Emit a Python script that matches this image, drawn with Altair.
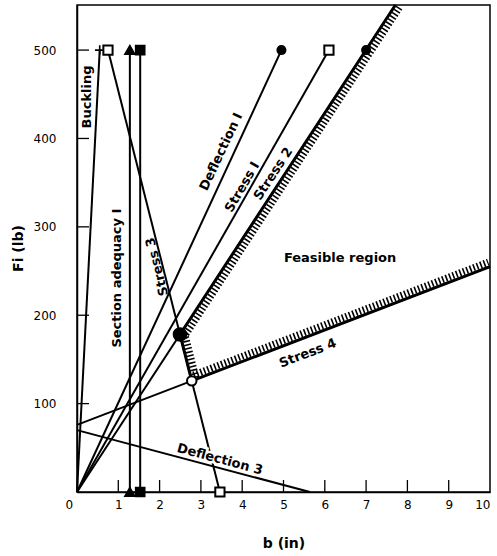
import altair as alt
import pandas as pd

# ---------------- data (b in inches, Fi in lb) ----------------
line_names = ["Buckling", "Section adequacy I", "Section adequacy II", "Deflection I",
              "Stress I", "Stress 2", "Stress 3", "Stress 4", "Deflection 3"]
line_b0 = [0.0, 1.28, 1.53, 0.0, 0.0, 0.0, 0.75, 0.0, 0.0]
line_f0 = [0.0, 0.0, 0.0, 0.0, 0.0, 0.0, 500.0, 76.0, 70.0]
line_b1 = [0.55, 1.28, 1.53, 4.95, 6.1, 7.71, 3.46, 10.0, 5.64]
line_f1 = [500.0, 500.0, 500.0, 500.0, 500.0, 551.0, 0.0, 255.0, 0.0]

plus_b, plus_f = [0.55], [500.0]
open_sq_b, open_sq_f = [0.75, 3.46, 6.1], [500.0, 0.0, 500.0]
tri_b, tri_f = [1.28, 1.28], [500.0, 0.0]
fill_sq_b, fill_sq_f = [1.53, 1.53], [500.0, 0.0]
dot_b, dot_f = [4.95, 7.0], [500.0, 500.0]

label_text = ["Buckling", "Section adequacy I", "Stress 3", "Deflection I", "Stress I",
              "Stress 2", "Feasible region", "Stress 4"]
label_b = [0.24, 0.97, 1.94, 3.49, 4.0, 4.75, 6.37, 5.59]
label_f = [447.0, 242.0, 255.0, 385.0, 345.0, 360.0, 265.0, 157.0]
defl3_text, defl3_b, defl3_f = ["Deflection 3"], [3.46], [37.0]

x_ticks = [0, 1, 2, 3, 4, 5, 6, 7, 8, 9, 10]
y_ticks = [100, 200, 300, 400, 500]

# ---------------- geometry helpers ----------------
def line_of(name):
    i = line_names.index(name)
    return line_b0[i], line_f0[i], line_b1[i], line_f1[i]

def intersect(n1, n2):
    a0, a1, a2, a3 = line_of(n1)
    b0, b1, b2, b3 = line_of(n2)
    m1 = (a3 - a1) / (a2 - a0)
    m2 = (b3 - b1) / (b2 - b0)
    c1 = a1 - m1 * a0
    c2 = b1 - m2 * b0
    xb = (c2 - c1) / (m1 - m2)
    return xb, m1 * xb + c1

vA = intersect("Stress 2", "Stress 3")
vB = intersect("Stress 3", "Stress 4")

lines_df = pd.DataFrame({
    "name": line_names * 2,
    "order": [0] * len(line_names) + [1] * len(line_names),
    "b": line_b0 + line_b1,
    "Fi": line_f0 + line_f1,
})

s2 = line_of("Stress 2")
s4 = line_of("Stress 4")
hatch2 = pd.DataFrame({"b": [vA[0], s2[2]], "Fi": [vA[1], s2[3]], "o": [0, 1]})
hatch3 = pd.DataFrame({"b": [vA[0], vB[0]], "Fi": [vA[1], vB[1]], "o": [0, 1]})
hatch4 = pd.DataFrame({"b": [vB[0], s4[2]], "Fi": [vB[1], s4[3]], "o": [0, 1]})

# ---------------- styling ----------------
FONT = "DejaVu Sans"
W, H = 413, 487
label_angles = [270, 270, 256, 295, 300, 303, 0, 339]

xscale = alt.Scale(domain=[0, 10], nice=False, zero=False)
yscale = alt.Scale(domain=[0, 551], nice=False, zero=False)

xaxis = alt.Axis(values=x_ticks, ticks=False, grid=False, labelFont=FONT, labelFontSize=12,
                 labelColor="black", labelPadding=7,
                 labelOffset={"condition": {"test": "datum.value === 0", "value": -12}, "value": 0},
                 domainColor="black", domainWidth=1.5, title="b (in)", titleFont=FONT,
                 titleFontSize=14, titleFontWeight="bold", titleColor="black",
                 titleY=51, titleBaseline="middle")
yaxis = alt.Axis(values=y_ticks, ticks=False, grid=False, labelFont=FONT, labelFontSize=12,
                 labelColor="black", labelPadding=21, domainColor="black", domainWidth=1.5,
                 title="Fi (lb)", titleFont=FONT, titleFontSize=14, titleFontWeight="bold",
                 titleColor="black", titleAngle=270, titleX=-59, titleY=243,
                 titleAlign="center", titleBaseline="middle")

def X(field="b"):
    return alt.X(f"{field}:Q", scale=xscale, axis=xaxis)

def Y(field="Fi"):
    return alt.Y(f"{field}:Q", scale=yscale, axis=yaxis)

lines = alt.Chart(lines_df).mark_line(color="black", strokeWidth=2).encode(
    x=X(), y=Y(), detail="name:N", order="order:Q")

main_hatch = alt.Chart(pd.concat([hatch2.assign(s="2"), hatch3.assign(s="3"), hatch4.assign(s="4")])).mark_line(
    color="black", strokeWidth=3).encode(x=X(), y=Y(), detail="s:N", order="o:Q")

def hatch_layer(df, dx, dy):
    return alt.Chart(df).mark_line(color="black", strokeWidth=7, strokeDash=[1.6, 2.1],
                                   xOffset=dx, yOffset=dy).encode(x=X(), y=Y(), order="o:Q")

h2 = hatch_layer(hatch2, 4.0, 2.6)
h3 = hatch_layer(hatch3, 4.6, -1.15)
h4 = hatch_layer(hatch4, -1.75, -4.5)

x_tick_df = pd.DataFrame({"b": x_ticks[1:-1]})
y_tick_df = pd.DataFrame({"Fi": y_ticks})
xt = alt.Chart(x_tick_df).mark_rule(color="black", strokeWidth=1.3).encode(
    x=X(), y=alt.value(H), y2=alt.value(H - 12))
yt = alt.Chart(y_tick_df).mark_rule(color="black", strokeWidth=1.3).encode(
    y=Y(), x=alt.value(0), x2=alt.value(12))

mk_enc = dict(x=X(), y=Y())
plus = alt.Chart(pd.DataFrame({"b": plus_b, "Fi": plus_f})).mark_point(
    shape="M-1,0L1,0M0,-1L0,1", size=90, color="black", strokeWidth=1.6, filled=False, opacity=1
).encode(**mk_enc)
open_sq = alt.Chart(pd.DataFrame({"b": open_sq_b, "Fi": open_sq_f})).mark_point(
    shape="square", size=85, fill="white", stroke="black", strokeWidth=2, filled=True, opacity=1
).encode(**mk_enc)
tris = alt.Chart(pd.DataFrame({"b": tri_b, "Fi": tri_f})).mark_point(
    shape="triangle-up", size=85, fill="black", stroke="black", filled=True, opacity=1
).encode(**mk_enc)
fsq = alt.Chart(pd.DataFrame({"b": fill_sq_b, "Fi": fill_sq_f})).mark_point(
    shape="square", size=75, fill="black", stroke="black", filled=True, opacity=1
).encode(**mk_enc)
dots = alt.Chart(pd.DataFrame({"b": dot_b, "Fi": dot_f})).mark_point(
    shape="circle", size=65, fill="black", stroke="black", filled=True, opacity=1
).encode(**mk_enc)
bigdot = alt.Chart(pd.DataFrame({"b": [vA[0]], "Fi": [vA[1]]})).mark_point(
    shape="circle", size=160, fill="black", stroke="black", filled=True, opacity=1
).encode(**mk_enc)
ocirc = alt.Chart(pd.DataFrame({"b": [vB[0]], "Fi": [vB[1]]})).mark_point(
    shape="circle", size=90, fill="white", stroke="black", strokeWidth=2, filled=True, opacity=1
).encode(**mk_enc)

lab_df = pd.DataFrame({"t": label_text, "b": label_b, "Fi": label_f, "a": label_angles})
labels = alt.Chart(lab_df).mark_text(font=FONT, fontSize=13, fontWeight="bold", color="black",
                                     align="center", baseline="middle").encode(
    x=X(), y=Y(), text="t:N", angle=alt.Angle("a:Q", scale=None))

d3_df = pd.DataFrame({"t": defl3_text, "b": defl3_b, "Fi": defl3_f})
d3_halo = alt.Chart(d3_df).mark_text(font=FONT, fontSize=13, fontWeight="bold", color="white",
                                     stroke="white", strokeWidth=5, angle=15,
                                     align="center", baseline="middle").encode(x=X(), y=Y(), text="t:N")
d3 = alt.Chart(d3_df).mark_text(font=FONT, fontSize=13, fontWeight="bold", color="black",
                                angle=15, align="center", baseline="middle").encode(x=X(), y=Y(), text="t:N")

chart = alt.layer(
    lines, main_hatch, h2, h3, h4, xt, yt, d3_halo, d3, labels,
    plus, open_sq, tris, fsq, dots, bigdot, ocirc
).properties(
    width=W, height=H,
    autosize=alt.AutoSizeParams(type="none"),
    padding={"left": 77, "top": 5, "right": 7, "bottom": 64},
    background="white",
).configure_view(stroke="black", strokeWidth=1.5)

chart.save("out.html", embed_options={"renderer": "svg", "actions": False})
